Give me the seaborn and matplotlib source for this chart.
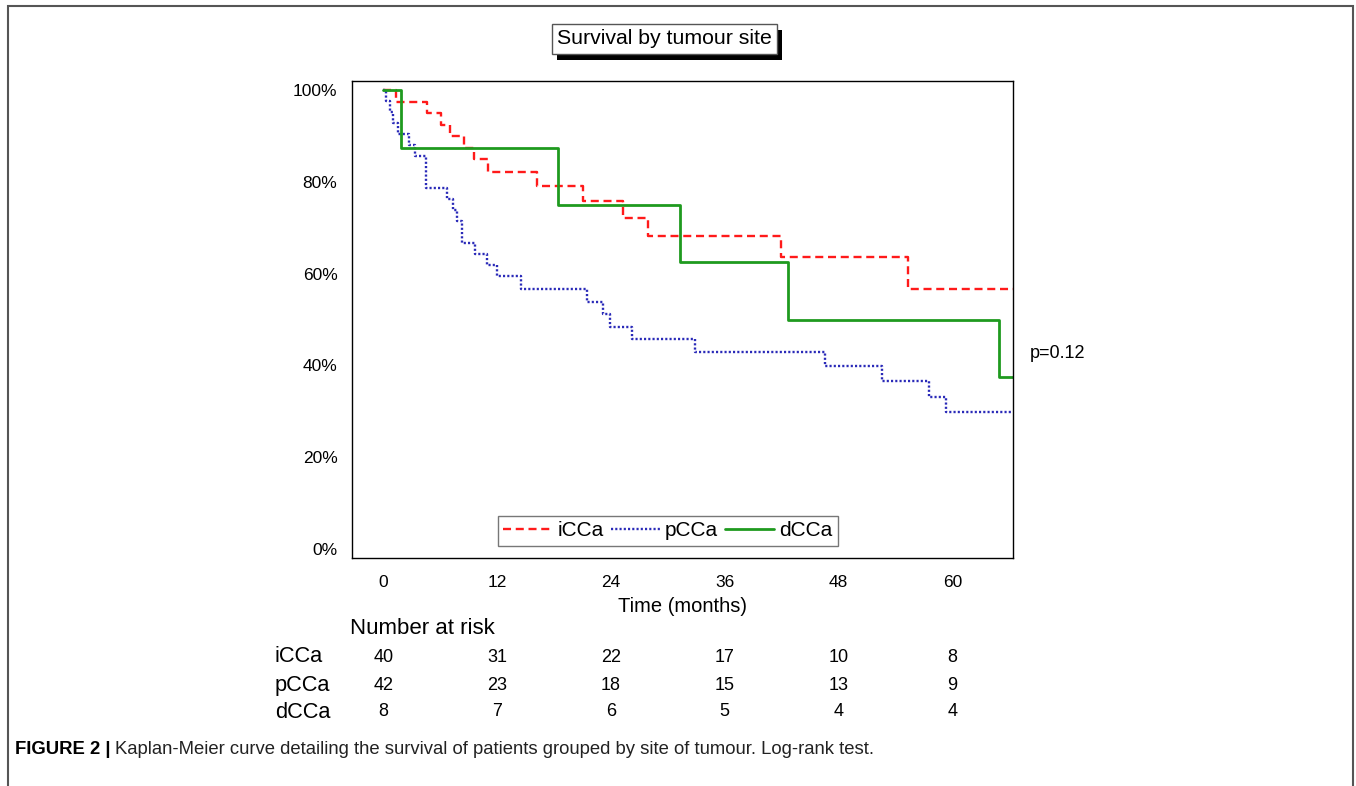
import matplotlib
matplotlib.use("Agg")
import matplotlib.pyplot as plt
import seaborn as sns
import pandas as pd
from matplotlib.patches import Rectangle
from matplotlib.ticker import MultipleLocator, FuncFormatter

# ---------------- data ----------------
icca_t = [0, 1.3, 4.6, 6.1, 7.0, 8.5, 9.6, 11.0, 16.2, 21.1, 25.3, 27.9, 41.9, 55.3, 66.4]
icca_s = [100, 97.5, 95.0, 92.5, 90.0, 87.5, 85.0, 82.1, 79.2, 75.8, 72.2, 68.3, 63.7, 56.6, 56.6]

pcca_t = [0, 0.3, 0.7, 1.0, 1.5, 2.7, 3.3, 4.5, 6.7, 7.4, 7.8, 8.3, 9.7, 10.9, 12.0, 14.5,
          21.5, 23.2, 23.9, 26.2, 32.9, 46.6, 52.6, 57.5, 59.3, 66.4]
pcca_s = [100, 97.6, 95.2, 92.9, 90.5, 88.1, 85.7, 78.6, 76.2, 73.8, 71.4, 66.7, 64.3, 61.9, 59.5, 56.6,
          53.9, 51.3, 48.4, 45.7, 42.9, 39.8, 36.5, 33.2, 29.8, 29.8]

dcca_t = [0, 1.9, 18.4, 31.3, 42.7, 64.9, 66.4]
dcca_s = [100, 87.5, 75.0, 62.5, 50.0, 37.5, 37.5]

groups = ["iCCa", "pCCa", "dCCa"]
risk_times = [0, 12, 24, 36, 48, 60]
risk_icca = [40, 31, 22, 17, 10, 8]
risk_pcca = [42, 23, 18, 15, 13, 9]
risk_dcca = [8, 7, 6, 5, 4, 4]

# ---------------- figure ----------------
W, H = 1356, 786
sns.set_style("white")
plt.rcParams["font.family"] = ["Liberation Sans", "DejaVu Sans"]
plt.rcParams["text.color"] = "black"
plt.rcParams["axes.labelcolor"] = "black"
fig = plt.figure(figsize=(W / 100, H / 100), dpi=100)

def fx(px):
    return px / W

def fy(py):
    return 1 - py / H

ax = fig.add_axes([fx(352), fy(558), fx(1013) - fx(352), fy(81) - fy(558)])

series = [
    (icca_t, icca_s, "iCCa", "#ff1a1a", (0, (3.4, 2.0)), 1.7),
    (pcca_t, pcca_s, "pCCa", "#2a2ab8", (0, (0.9, 0.9)), 1.7),
    (dcca_t, dcca_s, "dCCa", "#1f9a1f", "-", 2.0),
]
for t, s, name, col, ls, lw in series:
    df = pd.DataFrame({"t": t, "s": s})
    sns.lineplot(data=df, x="t", y="s", ax=ax, estimator=None, sort=False,
                 drawstyle="steps-post", color=col, linestyle=ls, linewidth=lw, label=name)

ax.set_xlim(-3.3, 66.4)
ax.set_ylim(-2, 102)
ax.xaxis.set_major_locator(MultipleLocator(12))
ax.xaxis.set_minor_locator(MultipleLocator(6))
ax.yaxis.set_major_locator(MultipleLocator(20))
ax.yaxis.set_minor_locator(MultipleLocator(10))
ax.yaxis.set_major_formatter(FuncFormatter(lambda v, p: f"{int(round(v))}%"))
ax.tick_params(axis="both", which="both", direction="out", color="black", width=1.0)
ax.tick_params(axis="both", which="major", length=7, labelsize=12.5, colors="black")
ax.tick_params(axis="both", which="minor", length=7)
ax.tick_params(axis="x", which="major", pad=5)
for sp in ax.spines.values():
    sp.set_color("black")
    sp.set_linewidth(1.0)
ax.set_xlabel("Time (months)", fontsize=14.5, labelpad=5, color="black")
ax.set_ylabel("")

leg = ax.legend(loc="center", bbox_to_anchor=(fx(668), fy(531)), bbox_transform=fig.transFigure,
                ncol=3, fontsize=15, frameon=True, fancybox=False, handlelength=2.35,
                handletextpad=0.25, columnspacing=0.35, borderpad=0.25, borderaxespad=0)
leg.get_frame().set_edgecolor("#555555")
leg.get_frame().set_linewidth(1.0)
for txt in leg.get_texts():
    txt.set_color("black")

# p-value
fig.text(fx(1030), fy(354), "p=0.12", fontsize=13, ha="left", va="center", color="black")

# title box with shadow
fig.patches.append(Rectangle((fx(557), fy(59.5)), fx(782) - fx(557), fy(30) - fy(59.5),
                             transform=fig.transFigure, facecolor="black", edgecolor="none", zorder=1))
fig.patches.append(Rectangle((fx(551.5), fy(53.5)), fx(776.5) - fx(551.5), fy(24) - fy(53.5),
                             transform=fig.transFigure, facecolor="white", edgecolor="#555555",
                             linewidth=1.0, zorder=2))
fig.text(fx(664), fy(39), "Survival by tumour site", fontsize=15.3, ha="center", va="center",
         zorder=3, color="black")

# number at risk table
fig.text(fx(350), fy(629), "Number at risk", fontsize=16, ha="left", va="center", color="black")
row_y = [657, 685, 712]
for g, vals, yy in zip(groups, [risk_icca, risk_pcca, risk_dcca], row_y):
    fig.text(fx(275), fy(yy), g, fontsize=15.7, ha="left", va="center", color="black")
    for tt, v in zip(risk_times, vals):
        xd = ax.transData.transform((tt, 0))[0]
        xfig = fig.transFigure.inverted().transform((xd, 0))[0]
        fig.text(xfig, fy(yy), str(v), fontsize=13, ha="center", va="center", color="black")

# outer frame
fig.patches.append(Rectangle((fx(8), fy(800)), fx(1353) - fx(8), fy(6) - fy(800),
                             transform=fig.transFigure, facecolor="none", edgecolor="#555555",
                             linewidth=1.5, zorder=0))

# caption, fitted to the reference width
fs = 13.0
t1 = fig.text(fx(15), fy(749), "FIGURE 2 |", fontsize=fs, fontweight="bold", ha="left", va="center",
              color="black")
t2 = fig.text(fx(100), fy(749),
              "Kaplan-Meier curve detailing the survival of patients grouped by site of tumour. Log-rank test.",
              fontsize=fs, ha="left", va="center", color="#222222")
r = fig.canvas.get_renderer()
w1 = t1.get_window_extent(r).width
w2 = t2.get_window_extent(r).width
gap = 5
scale = (873 - 15 - gap) / (w1 + w2)
t1.set_fontsize(fs * scale)
t2.set_fontsize(fs * scale)
w1 = t1.get_window_extent(r).width
t2.set_x(fx(15 + w1 + gap))

fig.savefig("out.png", dpi=100, facecolor="white")
